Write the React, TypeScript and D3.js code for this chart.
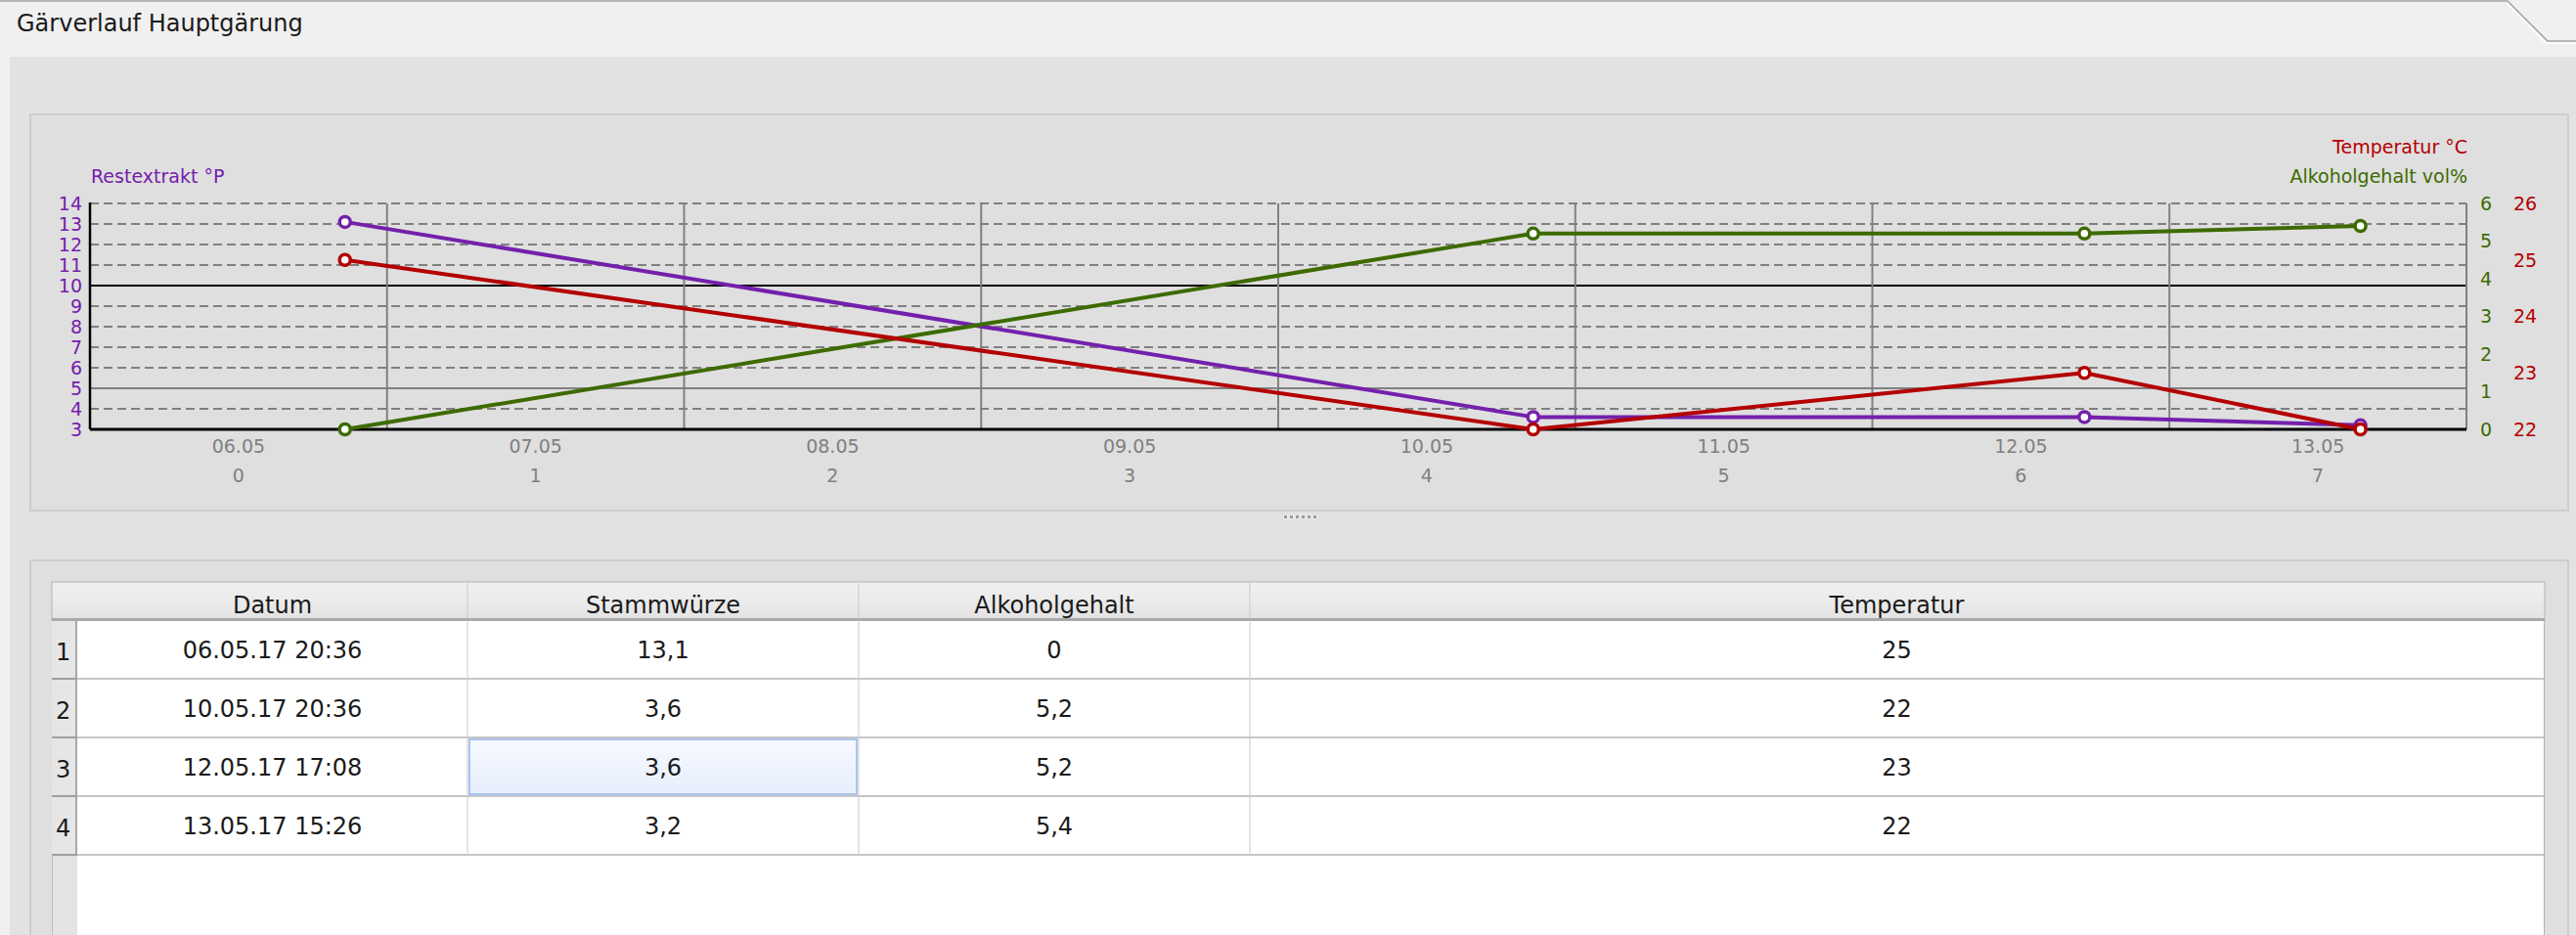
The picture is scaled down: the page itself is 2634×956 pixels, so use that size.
import React from 'react';
import * as d3 from 'd3';

// ---- data ----
const dateStrings = ['06.05.17 20:36', '10.05.17 20:36', '12.05.17 17:08', '13.05.17 15:26'];
const restextrakt = [13.1, 3.6, 3.6, 3.2];
const alkoholgehalt = [0, 5.2, 5.2, 5.4];
const temperatur = [25, 22, 23, 22];
const tableColumns = ['Datum', 'Stammwürze', 'Alkoholgehalt', 'Temperatur'];
const leftTicks = [3, 4, 5, 6, 7, 8, 9, 10, 11, 12, 13, 14];
const greenTicks = [0, 1, 2, 3, 4, 5, 6];
const redTicks = [22, 23, 24, 25, 26];

const W = 2634;
const H = 956;
const FONT = 'DejaVu Sans, Verdana, sans-serif';
const PURPLE = '#7420ac';
const GREEN = '#3d6b00';
const RED = '#b40000';
const GRAY = '#808080';

const parse = d3.timeParse('%d.%m.%y %H:%M');
const dates = dateStrings.map((s) => parse(s) as Date);
const start = d3.timeDay.floor(dates[0]);
const end = d3.timeDay.offset(start, 8);
const days = d3.timeDay.range(start, end);

const PX0 = 92, PX1 = 2522, PY0 = 208, PY1 = 439;
const x = d3.scaleTime().domain([start, end]).range([PX0, PX1]);
const yL = d3.scaleLinear().domain([3, 14]).range([PY1, PY0]);
const yG = d3.scaleLinear().domain([0, 6]).range([PY1, PY0]);
const yR = d3.scaleLinear().domain([22, 26]).range([PY1, PY0]);

const fmtDay = d3.timeFormat('%d.%m');
const fmtNum = (v: number) => String(v).replace('.', ',');

const series = [
  { values: restextrakt, y: yL, color: PURPLE },
  { values: alkoholgehalt, y: yG, color: GREEN },
  { values: temperatur, y: yR, color: RED },
];

// table geometry
const colEdges = [79, 478, 878, 1278, 2601];
const headerTop = 595, headerBottom = 634, rowH = 60;

export default function App() {
  const lineGen = (vals: number[], y: d3.ScaleLinear<number, number>) =>
    d3.line<number>().x((_, i) => x(dates[i])).y((v) => y(v))(vals) || '';

  const rows = dates.map((_, i) => [dateStrings[i], fmtNum(restextrakt[i]), fmtNum(alkoholgehalt[i]), fmtNum(temperatur[i])]);

  return (
    <svg width={W} height={H} style={{ position: 'absolute', left: 0, top: 0, display: 'block' }} fontFamily={FONT}>
      <defs>
        <linearGradient id="hdr" x1="0" y1="0" x2="0" y2="1">
          <stop offset="0" stopColor="#f0f0f0" />
          <stop offset="0.5" stopColor="#ebebeb" />
          <stop offset="1" stopColor="#e2e2e2" />
        </linearGradient>
        <linearGradient id="sel" x1="0" y1="0" x2="0" y2="1">
          <stop offset="0" stopColor="#f6f9ff" />
          <stop offset="1" stopColor="#e7eefc" />
        </linearGradient>
      </defs>
      {/* backgrounds */}
      <rect x={0} y={0} width={W} height={H} fill="#f0f0f0" />
      <path d="M0,1 H2564 L2605,42 H2634" fill="none" stroke="#a3a3a3" strokeWidth={1.5} />
      <path d="M2563,3 L2603,44 H2634" fill="none" stroke="#ffffff" strokeWidth={1.5} />
      <text x={17} y={32} fontSize={24} fill="#1a1a1a">Gärverlauf Hauptgärung</text>
      <rect x={10} y={58} width={W - 10} height={H - 58} fill="#e2e2e2" />

      {/* chart box */}
      <rect x={31} y={117} width={2595} height={405} fill="#dfdfdf" stroke="#cdcdcd" strokeWidth={2} />

      {/* horizontal grid */}
      {leftTicks.filter((v) => v !== 3).map((v) => {
        const solidBlack = v === 10;
        const solidGray = v === 5;
        return (
          <line key={'h' + v} x1={PX0} x2={PX1} y1={yL(v)} y2={yL(v)}
            stroke={solidBlack ? '#000' : GRAY} strokeWidth={2}
            strokeDasharray={solidBlack || solidGray ? undefined : '9,5'} />
        );
      })}
      {/* vertical grid */}
      {days.slice(1).map((d) => (
        <line key={'v' + d.getTime()} x1={x(d)} x2={x(d)} y1={PY0} y2={PY1} stroke={GRAY} strokeWidth={2} />
      ))}
      <line x1={PX1} x2={PX1} y1={PY0} y2={PY1} stroke={GRAY} strokeWidth={2} />
      {/* axes */}
      <line x1={PX0} x2={PX0} y1={PY0 - 1} y2={PY1} stroke="#000" strokeWidth={2.5} />
      <line x1={PX0} x2={PX1} y1={PY1} y2={PY1} stroke="#000" strokeWidth={3} />

      {/* y tick labels */}
      {leftTicks.map((v) => (
        <text key={'l' + v} x={84} y={yL(v)} dy="0.36em" textAnchor="end" fontSize={19} fill={PURPLE}>{v}</text>
      ))}
      {greenTicks.map((v) => (
        <text key={'g' + v} x={2536} y={yG(v)} dy="0.36em" textAnchor="start" fontSize={19} fill={GREEN}>{v}</text>
      ))}
      {redTicks.map((v) => (
        <text key={'r' + v} x={2570} y={yR(v)} dy="0.36em" textAnchor="start" fontSize={19} fill={RED}>{v}</text>
      ))}
      <text x={93} y={187} fontSize={19} fill={PURPLE}>Restextrakt °P</text>
      <text x={2523} y={157} fontSize={19} fill={RED} textAnchor="end">Temperatur °C</text>
      <text x={2523} y={187} fontSize={19} fill={GREEN} textAnchor="end">Alkoholgehalt vol%</text>

      {/* x labels */}
      {days.map((d, i) => {
        const cx = x(d3.timeHour.offset(d, 12));
        return (
          <g key={'x' + i}>
            <text x={cx} y={463} textAnchor="middle" fontSize={19} fill={GRAY}>{fmtDay(d)}</text>
            <text x={cx} y={493} textAnchor="middle" fontSize={19} fill={GRAY}>{i}</text>
          </g>
        );
      })}

      {/* series */}
      {series.map((s, si) => (
        <g key={'s' + si}>
          <path d={lineGen(s.values, s.y)} fill="none" stroke={s.color} strokeWidth={4} strokeLinejoin="round" />
          {s.values.map((v, i) => (
            <circle key={i} cx={x(dates[i])} cy={s.y(v)} r={5.5} fill="#fff" stroke={s.color} strokeWidth={3.5} />
          ))}
        </g>
      ))}

      {/* splitter grip */}
      {d3.range(6).map((i) => (
        <g key={'dot' + i}>
          <rect x={1312 + i * 6} y={526} width={5} height={5} fill="#ececec" />
          <rect x={1313 + i * 6} y={527} width={3} height={3} fill="#9a9a9a" />
        </g>
      ))}

      {/* table box */}
      <rect x={31} y={573} width={2595} height={H - 573 + 10} fill="#dfdfdf" stroke="#cdcdcd" strokeWidth={2} />
      {/* header */}
      <rect x={53} y={headerTop} width={2549} height={headerBottom - headerTop} fill="url(#hdr)" stroke="#b4b4b4" strokeWidth={1} />
      <rect x={53} y={632} width={2549} height={3} fill="#a9a9a9" />
      {colEdges.slice(1, -1).map((cx) => (
        <line key={'hd' + cx} x1={cx} x2={cx} y1={headerTop + 1} y2={632} stroke="#c9c9c9" strokeWidth={1} />
      ))}
      {tableColumns.map((c, ci) => (
        <text key={'hc' + ci} x={(colEdges[ci] + colEdges[ci + 1]) / 2} y={627} textAnchor="middle" fontSize={24} fill="#1a1a1a">{c}</text>
      ))}
      {/* body */}
      <rect x={79} y={635} width={2522} height={H - 635} fill="#ffffff" />
      <line x1={2601.5} x2={2601.5} y1={635} y2={H} stroke="#b0b0b0" strokeWidth={1} />
      <rect x={53} y={635} width={26} height={H - 635} fill="#e3e3e3" />
      <line x1={53.5} x2={53.5} y1={635} y2={H} stroke="#c0c0c0" strokeWidth={1} />
      {rows.map((r, ri) => {
        const top = headerBottom + ri * rowH;
        return (
          <g key={'row' + ri}>
            <rect x={53} y={top + 1} width={25} height={rowH - 1} fill="#e6e6e6" />
            <line x1={78} x2={78} y1={top} y2={top + rowH} stroke="#a8a8a8" strokeWidth={2} />
            <line x1={53} x2={79} y1={top + rowH} y2={top + rowH} stroke="#a0a0a0" strokeWidth={2} />
            <line x1={79} x2={2601} y1={top + rowH} y2={top + rowH} stroke="#c6c6c6" strokeWidth={2} />
            {colEdges.slice(1, -1).map((cx) => (
              <line key={'cv' + cx} x1={cx} x2={cx} y1={top} y2={top + rowH} stroke="#cacaca" strokeWidth={1} />
            ))}
            {ri === 2 && (
              <rect x={480} y={top + 2} width={396} height={rowH - 4} fill="url(#sel)" stroke="#a9c3ef" strokeWidth={2} />
            )}
            <text x={57} y={top + 41} fontSize={24} fill="#1a1a1a">{ri + 1}</text>
            {r.map((cell, ci) => (
              <text key={'c' + ci} x={(colEdges[ci] + colEdges[ci + 1]) / 2} y={top + 39} textAnchor="middle" fontSize={24} fill="#1a1a1a">{cell}</text>
            ))}
          </g>
        );
      })}
    </svg>
  );
}
